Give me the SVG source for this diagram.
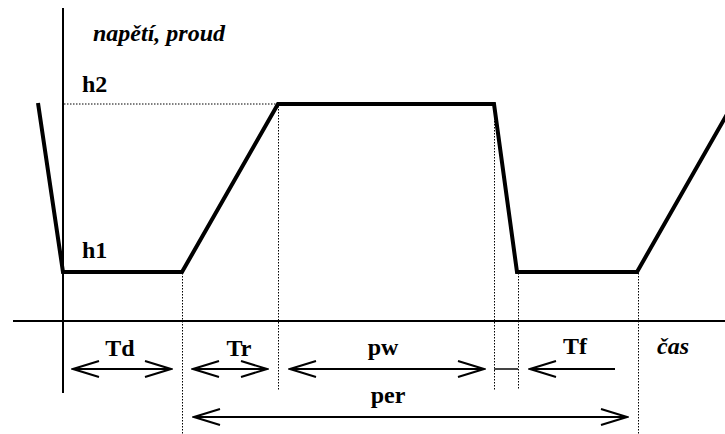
<svg xmlns="http://www.w3.org/2000/svg" width="725" height="434" viewBox="0 0 725 434">
<defs>
<marker id="ah" viewBox="0 0 30 20" refX="28" refY="10" markerWidth="30" markerHeight="20" markerUnits="userSpaceOnUse" orient="auto-start-reverse">
<path d="M2,2 L28,10 L2,18" fill="none" stroke="#000" stroke-width="2"/>
</marker>
<style>
.ax{stroke:#000;stroke-width:2;fill:none}
.wave{stroke:#000;stroke-width:4;fill:none;stroke-linejoin:miter}
.dot{stroke:#000;stroke-width:1;stroke-dasharray:1.5 1.5;fill:none}
.arr{stroke:#000;stroke-width:2;fill:none}
.lb{font-family:"Liberation Serif","Times New Roman",serif;font-weight:bold;font-size:24px;fill:#000}
.it{font-style:italic}
</style>
</defs>
<g id="axes">
<line class="ax" x1="63" y1="8" x2="63" y2="393"/>
<line class="ax" x1="13" y1="321" x2="725" y2="321" stroke="#222"/>
</g>
<g id="guides">
<line class="dot" x1="64" y1="104" x2="278" y2="104"/>
<line class="dot" x1="182.5" y1="273" x2="182.5" y2="434"/>
<line class="dot" x1="278.5" y1="106" x2="278.5" y2="390"/>
<line class="dot" x1="494.5" y1="106" x2="494.5" y2="390"/>
<line class="dot" x1="518.5" y1="273" x2="518.5" y2="390"/>
<line class="dot" x1="638.5" y1="273" x2="638.5" y2="434"/>
</g>
<g id="waveform">
<polyline class="wave" points="38,103 63,272 182,272 278,104 494,104 517,272 637,272 734,102"/>
</g>
<g id="connectors">
<line class="arr" x1="73" y1="369" x2="171" y2="369" marker-start="url(#ah)" marker-end="url(#ah)"/>
<line class="arr" x1="193" y1="369" x2="267" y2="369" marker-start="url(#ah)" marker-end="url(#ah)"/>
<line class="arr" x1="290" y1="369" x2="484" y2="369" marker-start="url(#ah)" marker-end="url(#ah)"/>
<line x1="494" y1="369" x2="518" y2="369" stroke="#444" stroke-width="2"/>
<line class="arr" x1="530" y1="369" x2="615" y2="369" marker-start="url(#ah)"/>
<line class="arr" x1="194" y1="417" x2="627" y2="417" marker-start="url(#ah)" marker-end="url(#ah)"/>
</g>
<g id="labels">
<text class="lb it" x="93" y="41">napětí, proud</text>
<text class="lb" x="82" y="92">h2</text>
<text class="lb" x="82" y="258">h1</text>
<text class="lb" x="120" y="356" text-anchor="middle">Td</text>
<text class="lb" x="239" y="356" text-anchor="middle">Tr</text>
<text class="lb" x="383" y="355" text-anchor="middle">pw</text>
<text class="lb" x="388" y="403" text-anchor="middle">per</text>
<text class="lb" x="575" y="354" text-anchor="middle">Tf</text>
<text class="lb it" x="657" y="354">čas</text>
</g>
</svg>
